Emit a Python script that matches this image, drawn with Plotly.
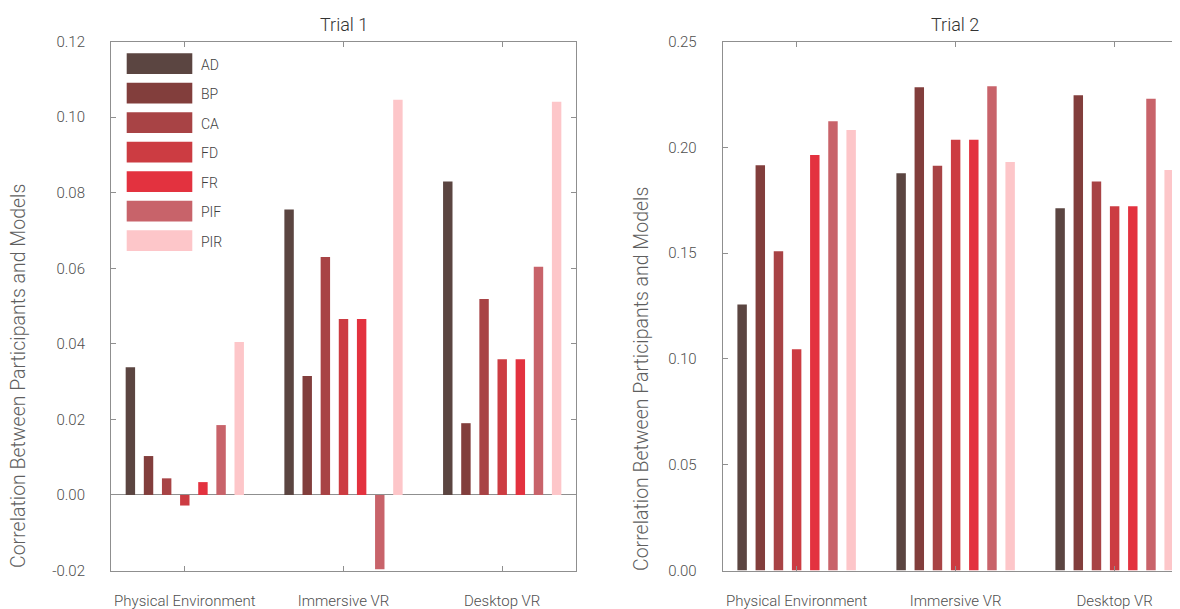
import plotly.graph_objects as go

categories = ["Physical Environment", "Immersive VR", "Desktop VR"]
series_names = ["AD", "BP", "CA", "FD", "FR", "PIF", "PIR"]
series_colors = ["#5b4541", "#823e3c", "#a84345", "#cc3c42", "#e3323f", "#c8636a", "#fdc6c9"]

trial1_AD = [0.0338, 0.0756, 0.0830]
trial1_BP = [0.0103, 0.0315, 0.0190]
trial1_CA = [0.0044, 0.0630, 0.0519]
trial1_FD = [-0.0028, 0.0466, 0.0359]
trial1_FR = [0.0034, 0.0466, 0.0359]
trial1_PIF = [0.0185, -0.0197, 0.0604]
trial1_PIR = [0.0405, 0.1046, 0.1041]

trial2_AD = [0.1257, 0.1878, 0.1713]
trial2_BP = [0.1916, 0.2285, 0.2247]
trial2_CA = [0.1509, 0.1914, 0.1839]
trial2_FD = [0.1046, 0.2037, 0.1722]
trial2_FR = [0.1964, 0.2037, 0.1722]
trial2_PIF = [0.2124, 0.2289, 0.2230]
trial2_PIR = [0.2083, 0.1931, 0.1894]

trial1_ticks = [-0.02, 0.0, 0.02, 0.04, 0.06, 0.08, 0.10, 0.12]
trial2_ticks = [0.0, 0.05, 0.10, 0.15, 0.20, 0.25]

trial1 = [trial1_AD, trial1_BP, trial1_CA, trial1_FD, trial1_FR, trial1_PIF, trial1_PIR]
trial2 = [trial2_AD, trial2_BP, trial2_CA, trial2_FD, trial2_FR, trial2_PIF, trial2_PIR]

OFF = 8  # default page body margin
W, H = 1180 - OFF, 609 - OFF
FONT = "Roboto"
WGT = 300
AX_COL = "#8f8f8f"
TXT_COL = "#4f4f4f"


def px_x(p):
    return (p - OFF) / W


def px_y(p):
    return 1 - (p - OFF) / H


fig = go.Figure()
for name, color, v1, v2 in zip(series_names, series_colors, trial1, trial2):
    fig.add_trace(go.Bar(x=categories, y=v1, name=name, marker_color=color,
                         marker_line_width=0, showlegend=False,
                         xaxis="x", yaxis="y"))
    fig.add_trace(go.Bar(x=categories, y=v2, name=name, marker_color=color,
                         marker_line_width=0, showlegend=False,
                         xaxis="x2", yaxis="y2"))

ydom = [px_y(570.5), px_y(41.7)]
common_x = dict(type="category", showline=True, linecolor=AX_COL, linewidth=1,
                ticks="inside", ticklen=5, tickcolor=AX_COL, showgrid=False,
                zeroline=False, tickfont=dict(family=FONT, size=15, color=TXT_COL, weight=WGT),
                ticklabelstandoff=16, automargin=False, mirror="ticks")
common_y = dict(showline=True, linecolor=AX_COL, linewidth=1, ticks="inside",
                ticklen=5, tickcolor=AX_COL, showgrid=False,
                tickfont=dict(family=FONT, size=15, color=TXT_COL, weight=WGT),
                ticklabelstandoff=22, automargin=False)

# category spacing in pixels (159 px) -> right plot is cut at the window edge
cat_px = 159.0
right_end = -0.465 + (1180 - 722.7) / cat_px

fig.update_layout(
    width=W, height=H,
    margin=dict(l=0, r=0, t=0, b=0),
    paper_bgcolor="white", plot_bgcolor="white",
    barmode="group", bargap=0.2, bargroupgap=0.48,
    xaxis=dict(common_x, domain=[px_x(111), px_x(576)], range=[-0.465, 2.465],
               anchor="y"),
    yaxis=dict(common_y, domain=ydom, range=[-0.02, 0.12], tickvals=trial1_ticks,
               ticktext=[f"{v:.2f}" for v in trial1_ticks], mirror="ticks",
               zeroline=True, zerolinecolor=AX_COL, zerolinewidth=1, anchor="x"),
    xaxis2=dict(common_x, domain=[px_x(722.7), 1.0], range=[-0.465, right_end],
                anchor="y2"),
    yaxis2=dict(common_y, domain=ydom, range=[0, 0.25], tickvals=trial2_ticks,
                ticktext=[f"{v:.2f}" for v in trial2_ticks], mirror=False,
                zeroline=False, anchor="x2"),
)

annotations = []
shapes = []
# subplot titles
for title, xp in [("Trial 1", 343.5), ("Trial 2", 955)]:
    annotations.append(dict(text=title, x=px_x(xp), y=px_y(25), xref="paper", yref="paper",
                            showarrow=False,
                            font=dict(family=FONT, size=18, color="#333333", weight=WGT),
                            xanchor="center", yanchor="middle"))
# y axis titles
ytitle = "Correlation Between Participants and Models"
for xp, yp in [(18, 376), (641, 379)]:
    annotations.append(dict(text=ytitle, x=px_x(xp), y=px_y(yp), xref="paper", yref="paper",
                            showarrow=False, textangle=-90,
                            font=dict(family=FONT, size=19.5, color="#5f5f5f", weight=WGT),
                            xanchor="center", yanchor="middle"))
# custom legend with large swatches
for i, (name, color) in enumerate(zip(series_names, series_colors)):
    top = 53.3 + 29.5 * i
    bot = top + 20.7
    shapes.append(dict(type="rect", xref="paper", yref="paper",
                       x0=px_x(126.7), x1=px_x(192.3), y0=px_y(bot), y1=px_y(top),
                       fillcolor=color, line=dict(width=0)))
    annotations.append(dict(text=name, x=px_x(199), y=px_y((top + bot) / 2 + 1),
                            xref="paper", yref="paper", showarrow=False,
                            xanchor="left", yanchor="middle",
                            font=dict(family=FONT, size=14, color="#3f3f3f", weight=WGT)))

fig.update_layout(annotations=annotations, shapes=shapes)
fig.write_html("out.html")
